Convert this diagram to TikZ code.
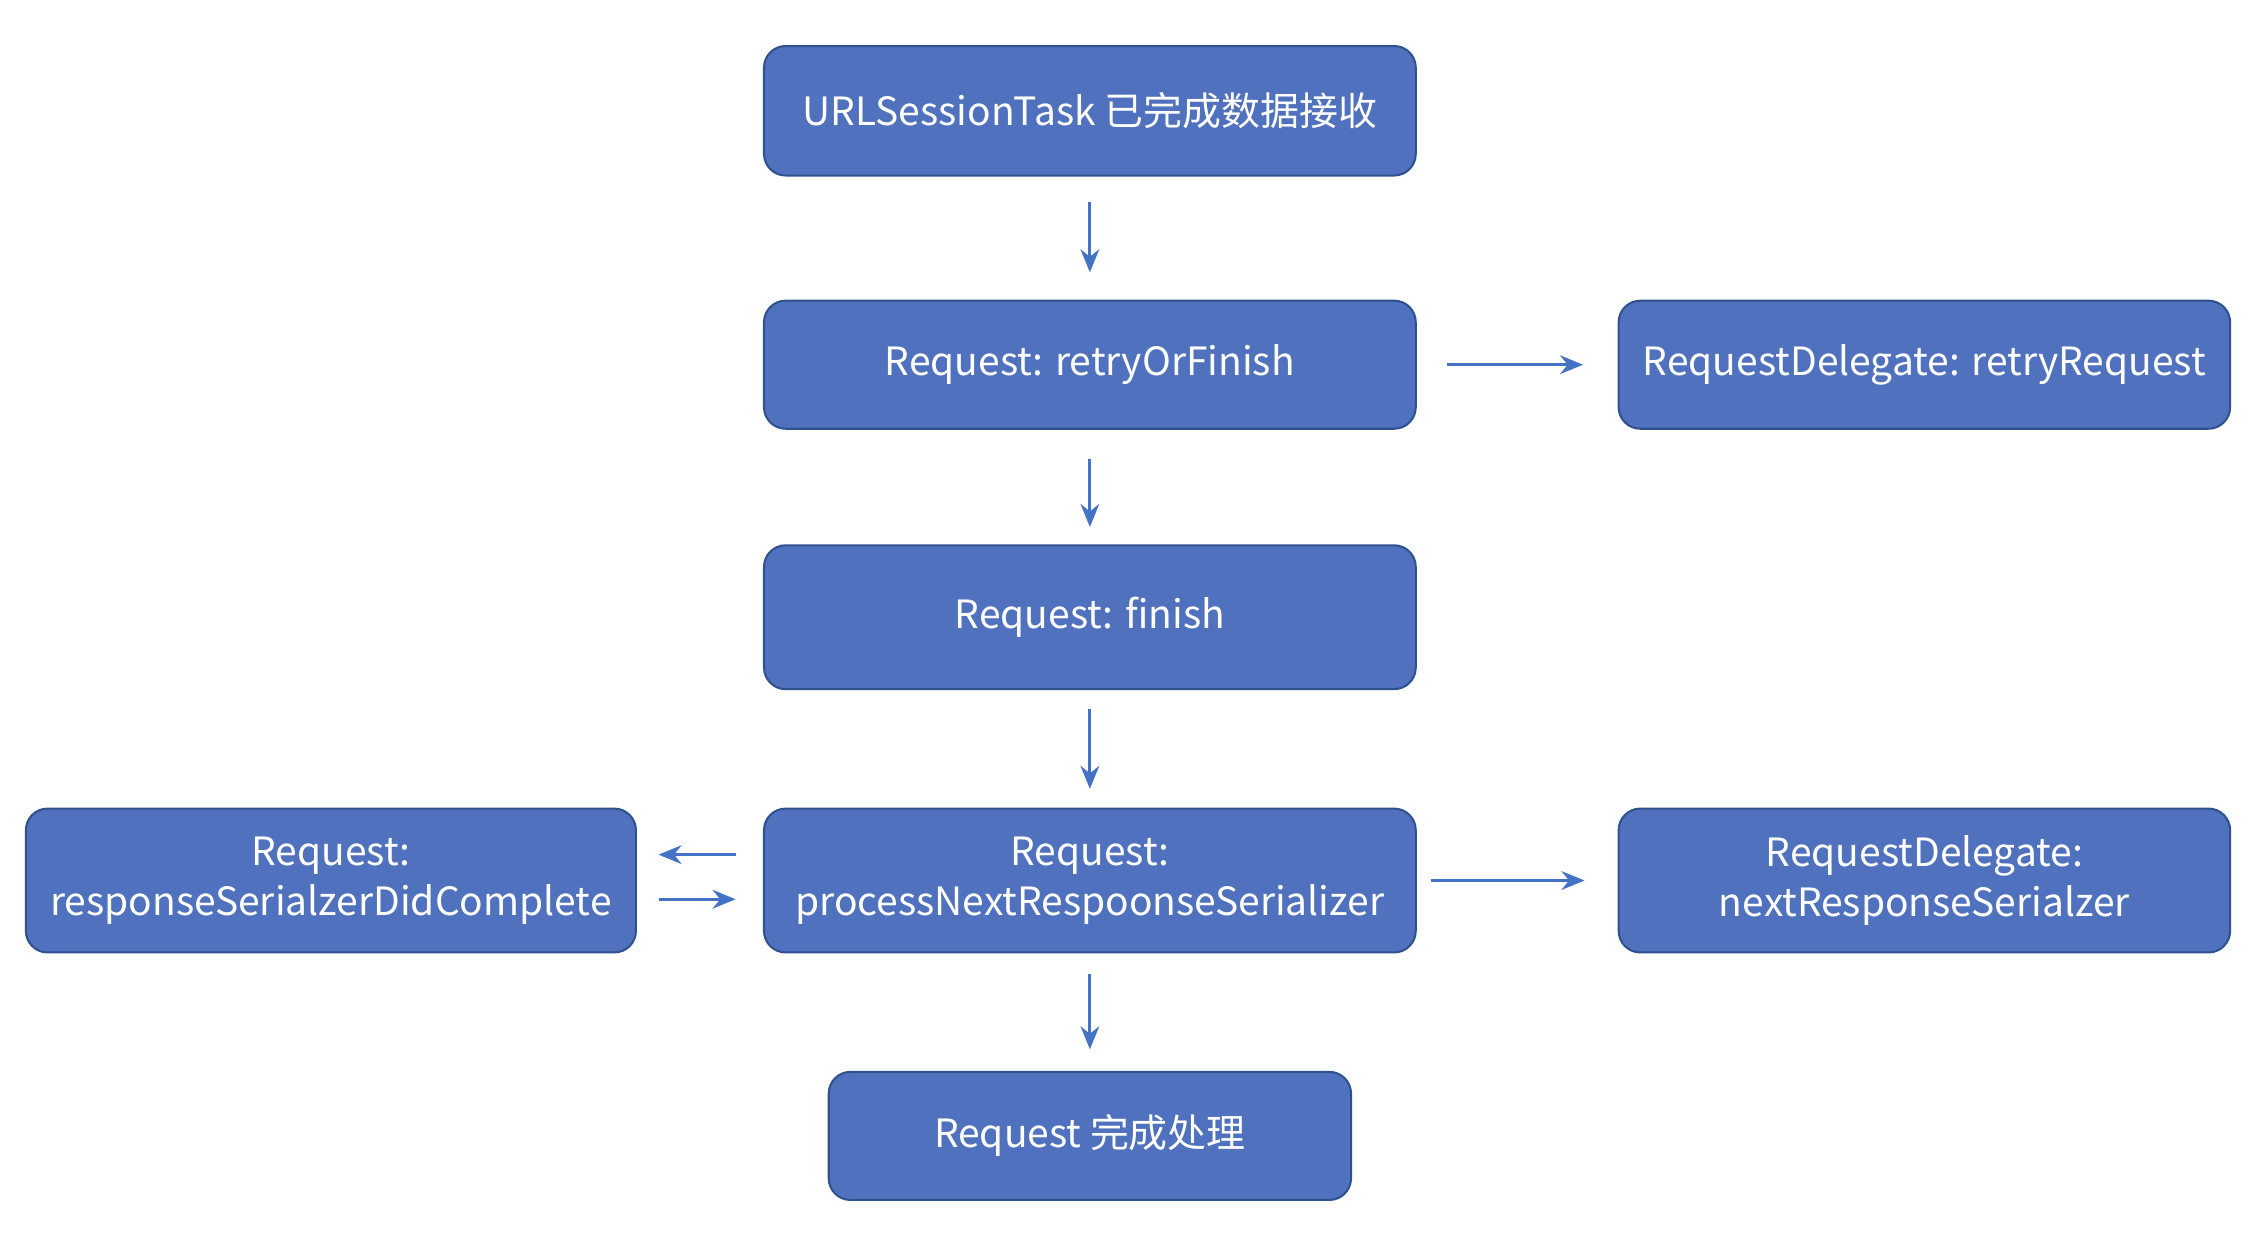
\documentclass[tikz,border=0pt]{standalone}
\usepackage{fontspec}
\setmainfont{Noto Sans CJK SC}
\usetikzlibrary{arrows.meta}
\definecolor{boxfill}{HTML}{4F71BE}
\definecolor{boxedge}{HTML}{2F528F}
\definecolor{arrowblue}{HTML}{4472C4}
\begin{document}
\begin{tikzpicture}[
    stepbox/.style={draw=boxedge, line width=0.4pt, fill=boxfill, rounded corners=0.15cm, text=white, align=center, inner sep=0pt, font=\fontsize{7.7}{9.8}\selectfont},
    flow/.style={draw=arrowblue, line width=0.6pt, -{Stealth[length=1.6mm, width=1.3mm]}}]
  \useasboundingbox (0,0) rectangle (15.68,8.66);
  \node [stepbox, minimum width=4.53cm, minimum height=0.9cm] (task) at (7.575,7.89) {URLSessionTask 已完成数据接收};
  \node [stepbox, minimum width=4.53cm, minimum height=0.89cm] (retry) at (7.575,6.125) {Request: retryOrFinish};
  \node [stepbox, minimum width=4.25cm, minimum height=0.89cm] (retrydel) at (13.375,6.125) {RequestDelegate: retryRequest};
  \node [stepbox, minimum width=4.53cm, minimum height=1.0cm] (finish) at (7.575,4.37) {Request: finish};
  \node [stepbox, minimum width=4.53cm, minimum height=1.0cm] (process) at (7.575,2.54) {Request:\\processNextRespoonseSerializer};
  \node [stepbox, minimum width=4.24cm, minimum height=1.0cm] (didcomplete) at (2.30,2.54) {Request:\\responseSerialzerDidComplete};
  \node [stepbox, minimum width=4.25cm, minimum height=1.0cm] (nextdel) at (13.375,2.54) {RequestDelegate:\\nextResponseSerialzer};
  \node [stepbox, minimum width=3.63cm, minimum height=0.89cm] (done) at (7.575,0.765) {Request 完成处理};
  \draw [flow, shorten <=1.8mm, shorten >=1.9mm] (task) -- (retry);
  \draw [flow, shorten <=2mm, shorten >=1.2mm] (retry) -- (finish);
  \draw [flow, shorten <=2.1mm, shorten >=2.4mm] (retry) -- (retrydel);
  \draw [flow, shorten <=1.3mm, shorten >=1.3mm] (finish) -- (process);
  \draw [flow, shorten <=1.9mm, shorten >=1.5mm] ([yshift=1.8mm]process.west) -- ([yshift=1.8mm]didcomplete.east);
  \draw [flow, shorten <=1.5mm, shorten >=1.9mm] ([yshift=-1.3mm]didcomplete.east) -- ([yshift=-1.3mm]process.west);
  \draw [flow, shorten <=1mm, shorten >=2.3mm] (process) -- (nextdel);
  \draw [flow, shorten <=1.4mm, shorten >=1.5mm] (process) -- (done);
\end{tikzpicture}
\end{document}
